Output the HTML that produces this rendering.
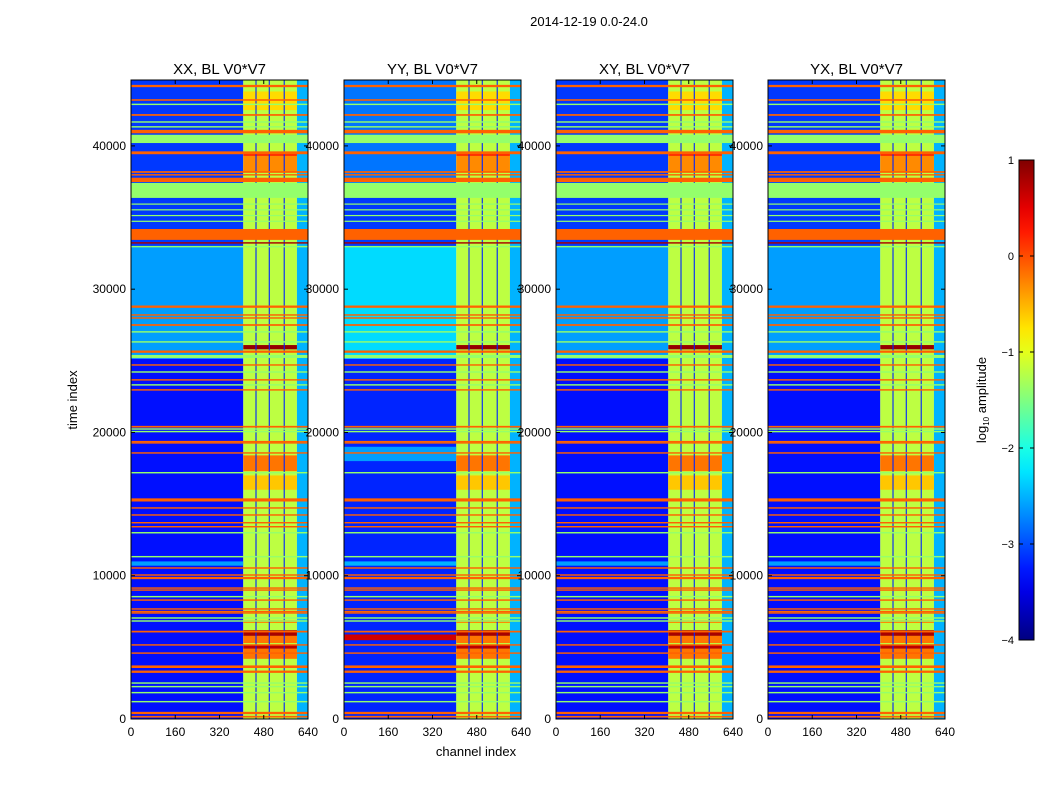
<!DOCTYPE html>
<html><head><meta charset="utf-8"><style>
html,body{margin:0;padding:0;background:#fff;width:1050px;height:800px;overflow:hidden}
text{font-family:"Liberation Sans",sans-serif;fill:#000}
</style></head><body>
<svg id="chart" width="1050" height="800" xmlns="http://www.w3.org/2000/svg">
<text x="589" y="26" font-size="13" text-anchor="middle">2014-12-19 0.0-24.0</text>
<text x="77" y="400" font-size="13" text-anchor="middle" transform="rotate(-90 77 400)">time index</text>
<text x="476" y="756" font-size="13" text-anchor="middle">channel index</text>
<text x="986" y="400" font-size="13" text-anchor="middle" transform="rotate(-90 986 400)">log<tspan font-size="8" dy="3">10</tspan><tspan dy="-3"> amplitude</tspan></text>
</svg>
<script>
const panelTitles = ["XX, BL V0*V7","YY, BL V0*V7","XY, BL V0*V7","YX, BL V0*V7"];
const xTicks = [0,160,320,480,640];
const yTicks = [0,10000,20000,30000,40000];
const cbTicks = [1,0,-1,-2,-3,-4];
const stripeChannels = [452,500,554];
const lowSegmentsXX = [[0,25150,-3.3],[25150,32950,-2.6],[32950,44600,-3.1],[10700,11000,-2.6]];
const lowSegmentsYY = [[0,25150,-3.2],[25150,32950,-2.3],[32950,37000,-3.1],[37000,44600,-2.8],[10700,11000,-2.5],[5500,5900,0.6],[18000,19000,-2.6]];
const lowSegmentsXY = [[0,25150,-3.3],[25150,32950,-2.6],[32950,44600,-3.1],[10700,11000,-2.6]];
const lowSegmentsYX = [[0,25150,-3.3],[25150,32950,-2.6],[32950,44600,-3.1],[10700,11000,-2.6]];
const highBase = -1.2, stripeVal = -3.2, tailVal = -2.5;
const hotBands = [[42500,43800,-0.7],[39300,39500,0.2],[38200,39300,-0.3],[25800,26100,0.9],[17300,18400,-0.2],[16000,17000,-0.6],[6700,6900,-0.3],[5800,6200,0.8],[5300,5800,-0.2],[4900,5200,0.7],[4200,4900,-0.2]];
const fullBands = [[44100,44260,-0.1],[43150,43260,-0.1],[42850,42950,-1.4],[42100,42220,-0.1],[41620,41720,-1.4],[41280,41380,-1.4],[40880,41120,-0.1],[40200,40780,-1.4],[39420,39620,-0.1],[38120,38240,-0.1],[37930,38030,-0.1],[37480,37780,-0.1],[36370,37420,-1.4],[35900,35980,-1.4],[35500,35580,-1.4],[35100,35180,-1.4],[34700,34780,-1.4],[33440,34200,-0.1],[33180,33280,0.8],[32920,33020,-1.4],[28700,28860,-0.1],[28150,28250,-0.1],[27940,28040,-0.1],[27440,27560,-0.1],[26970,27070,-1.4],[26270,26370,-1.4],[25560,25720,-0.1],[25200,25410,-1.4],[24660,24760,-0.1],[24170,24270,-1.4],[23620,23720,-0.1],[23270,23370,-1.4],[22920,23020,-0.1],[20340,20460,-0.1],[20190,20290,-1.4],[20010,20110,-1.4],[19310,19410,-0.1],[19220,19320,-0.1],[18520,18620,-0.1],[17140,17240,-1.4],[15180,15400,-0.1],[14680,14780,-0.1],[14190,14290,-0.1],[13650,13750,-0.1],[13370,13470,-0.1],[12950,13050,-1.4],[11280,11380,-1.4],[10490,10590,-0.1],[10000,10100,-0.1],[9760,9920,-0.1],[9090,9190,-0.1],[8950,9050,-0.1],[8490,8590,-1.4],[8250,8350,-0.1],[7630,7730,-0.1],[7450,7550,-0.1],[7350,7450,-0.1],[7000,7100,-1.4],[6790,6890,-1.4],[6040,6160,-0.1],[5120,5220,-0.1],[4550,4650,-0.1],[3560,3740,-0.1],[3220,3380,-0.1],[2460,2560,-1.4],[2210,2310,-1.4],[1790,1890,-1.4],[1160,1260,-1.4],[340,500,-0.1],[100,220,-0.1]];

const NS="http://www.w3.org/2000/svg";
const svg=document.getElementById('chart');
const panelLeft=[131,344,556,768], PW=177, TOP=80, BOT=719, TMAX=44600, CMAX=640;
const VMIN=-4, VMAX=1;
function jet(v){let x=(v-VMIN)/(VMAX-VMIN);x=Math.max(0,Math.min(1,x));
 const c=t=>Math.round(255*Math.max(0,Math.min(1,1.5-Math.abs(4*x-t))));
 return `rgb(${c(3)},${c(2)},${c(1)})`;}
function mk(tag,attrs,parent){const e=document.createElementNS(NS,tag);for(const k in attrs)e.setAttribute(k,attrs[k]);(parent||svg).appendChild(e);return e;}
const lowSegs=[lowSegmentsXX,lowSegmentsYY,lowSegmentsXY,lowSegmentsYX];
panelTitles.forEach((title,p)=>{
 const L=panelLeft[p];
 const xS=c=>L+c/CMAX*PW;
 const yS=t=>BOT-t/TMAX*(BOT-TOP);
 const g=mk('g',{});
 
 
 const cell=(c0,c1,t0,t1,v,name)=>{const r=mk('rect',{x:xS(c0),y:yS(t1),width:xS(c1)-xS(c0),height:Math.max(1.2,yS(t0)-yS(t1)),fill:jet(v)},g);
  
  };
 lowSegs[p].forEach(s=>cell(0,406,s[0],s[1],s[2],'low-band'));
 cell(406,600,0,TMAX,highBase,'high-region');
 cell(600,640,0,TMAX,tailVal,'tail-region');
 hotBands.forEach(b=>cell(406,600,b[0],b[1],b[2],'hot-band'));
 stripeChannels.forEach(ch=>cell(ch-2,ch+2,0,TMAX,stripeVal,'stripe-line'));
 fullBands.forEach(b=>cell(0,640,b[0],b[1],b[2],'full-band'));
 const fr=mk('rect',{x:L,y:TOP,width:PW,height:BOT-TOP,fill:'none',stroke:'#000','stroke-width':1},g);
 
 
 const tt=mk('text',{x:L+PW/2,y:TOP-6,'font-size':15,'text-anchor':'middle'},g);tt.textContent=title;
 
 
 xTicks.forEach(v=>{const x=xS(v);
  mk('line',{x1:x,x2:x,y1:BOT,y2:BOT-4,stroke:'#000'},g);mk('line',{x1:x,x2:x,y1:TOP,y2:TOP+4,stroke:'#000'},g);
  const t=mk('text',{x:x,y:BOT+17,'font-size':12,'text-anchor':'middle'},g);t.textContent=v;
  
  });
 yTicks.forEach(v=>{const y=yS(v);
  mk('line',{x1:L,x2:L+4,y1:y,y2:y,stroke:'#000'},g);mk('line',{x1:L+PW,x2:L+PW-4,y1:y,y2:y,stroke:'#000'},g);
  const t=mk('text',{x:L-5,y:y+4,'font-size':12,'text-anchor':'end'},g);t.textContent=v;
  
  });
});
// colorbar
const CBX=1019,CBW=15,CBT=160,CBB=640;
const cbS=v=>CBB-(v-VMIN)/(VMAX-VMIN)*(CBB-CBT);
const defs=mk('defs',{});const grad=mk('linearGradient',{id:'jetg',x1:0,y1:1,x2:0,y2:0},defs);
for(let i=0;i<=20;i++){const v=VMIN+i/20*(VMAX-VMIN);mk('stop',{offset:i/20,'stop-color':jet(v)},grad);}
const cb=mk('rect',{x:CBX,y:CBT,width:CBW,height:CBB-CBT,fill:'url(#jetg)',stroke:'#000'});


cbTicks.forEach(v=>{const y=cbS(v);
 mk('line',{x1:CBX,x2:CBX+4,y1:y,y2:y,stroke:'#000'});mk('line',{x1:CBX+CBW,x2:CBX+CBW-4,y1:y,y2:y,stroke:'#000'});
 const t=mk('text',{x:CBX-5,y:y+4,'font-size':11,'text-anchor':'end'});t.textContent=(v<0?'\u2212'+(-v):v);
 
 });
</script>
</body></html>
